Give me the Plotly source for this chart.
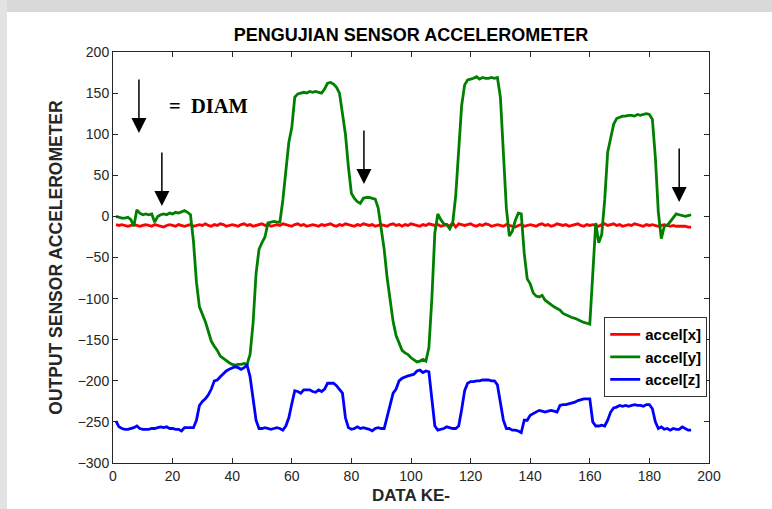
import plotly.graph_objects as go

# ---------------- data ----------------
data_ke = list(range(1, 195))

accel_x = [
    -10, -11, -10, -11, -12, -11, -10, -11, -12, -11,
    -10, -11, -12, -10, -11, -12, -13, -11, -10, -11,
    -12, -10, -11, -12, -11, -10, -12, -11, -10, -11,
    -9, -11, -12, -10, -11, -9, -10, -12, -11, -10,
    -11, -12, -10, -9, -11, -10, -12, -11, -10, -9,
    -11, -10, -12, -11, -10, -11, -9, -10, -11, -12,
    -10, -9, -11, -10, -12, -11, -10, -11, -12, -10,
    -11, -10, -9, -11, -12, -10, -11, -9, -10, -11,
    -12, -10, -11, -9, -10, -11, -10, -12, -11, -10,
    -11, -12, -10, -9, -11, -10, -12, -10, -11, -9,
    -10, -11, -12, -10, -11, -9, -10, -11, -10, -12,
    -11, -10, -12, -8, -13, -9, -10, -11, -10, -9,
    -11, -12, -10, -11, -9, -10, -12, -11, -10, -11,
    -12, -10, -11, -12, -13, -11, -10, -12, -11, -10,
    -11, -12, -10, -9, -11, -10, -12, -11, -9, -10,
    -11, -10, -12, -11, -10, -9, -11, -12, -10, -11,
    -10, -11, -12, -10, -9, -11, -10, -9, -11, -10,
    -12, -11, -10, -11, -9, -10, -11, -12, -10, -11,
    -10, -11, -12, -11, -10, -11, -12, -11, -12, -12,
    -12, -12, -13, -13,
]

accel_y = [
    0, -1, -2, -2, -1, -4, -12, 8, 4, 2,
    3, 2, 3, -7, 0, 2, 3, 2, 4, 3,
    5, 4, 6, 7, 5, 2, -30, -80, -110, -118,
    -128, -140, -152, -158, -163, -170, -173, -176, -178, -180,
    -181, -180, -180, -179, -180, -168, -130, -70, -40, -32,
    -25, -8, -7, -6, -7, -7, 20, 55, 90, 108,
    145, 149, 150, 151, 150, 152, 151, 152, 151, 150,
    155, 162, 163, 161, 157, 150, 125, 100, 60, 28,
    22, 18, 16, 22, 23, 23, 22, 21, 10, -15,
    -40, -75, -105, -128, -145, -155, -163, -166, -168, -172,
    -174, -177, -176, -174, -176, -160, -100, -20, 3, -4,
    -9, -10, -15, -8, 25, 80, 135, 160, 166, 167,
    168, 170, 167, 169, 168, 168, 169, 168, 169, 145,
    80, 10, -24, -18, -5, 4, 3, -45, -76, -82,
    -93, -97, -98, -96, -102, -105, -107, -110, -112, -114,
    -118, -120, -121, -123, -124, -126, -127, -129, -130, -131,
    -70, -8, -32, -22, 20, 78, 95, 112, 119, 121,
    122, 122, 123, 123, 122, 124, 123, 124, 125, 124,
    118, 72, 5, -27, -12, -11, -6, -2, 3, 2,
    1, 0, 1, 2,
]

accel_z = [
    -249, -256, -258, -259, -259, -258, -257, -255, -258, -259,
    -259, -259, -258, -258, -257, -256, -257, -256, -258, -258,
    -259, -259, -261, -257, -257, -257, -257, -248, -230, -225,
    -222, -217, -210, -200, -199, -195, -191, -188, -186, -184,
    -183, -184, -186, -184, -181, -195, -225, -248, -258, -258,
    -257, -258, -259, -258, -257, -258, -260, -255, -245, -228,
    -212, -213, -215, -211, -211, -211, -213, -214, -211, -213,
    -210, -203, -203, -203, -206, -210, -215, -245, -257, -259,
    -258, -256, -258, -257, -258, -259, -261, -258, -257, -258,
    -258, -244, -232, -215, -210, -200, -197, -195, -194, -193,
    -192, -188, -187, -190, -188, -189, -220, -255, -260, -259,
    -258, -256, -257, -258, -258, -255, -235, -212, -203, -201,
    -201, -200, -200, -199, -199, -199, -200, -200, -205, -225,
    -248, -258, -258, -260, -260, -261, -263, -248, -248, -242,
    -240, -238, -236, -237, -238, -237, -236, -237, -238, -230,
    -229, -229, -228, -227, -226, -224, -223, -222, -222, -222,
    -250, -255, -255, -254, -255, -248, -238, -233, -232, -230,
    -231, -230, -231, -230, -229, -230, -230, -231, -229, -229,
    -234, -250, -258, -256, -259, -258, -260, -258, -259, -259,
    -256, -258, -260, -260,
]

series_names = ["accel[x]", "accel[y]", "accel[z]"]
series_colors = ["#ff0000", "#008000", "#0000ff"]

x_ticks = list(range(0, 201, 20))
y_ticks = list(range(-300, 201, 50))

# arrow tips (data coords)
arrow_x = [8.7, 16.4, 84.2, 190.0]
arrow_y = [101.5, 12.7, 39.4, 17.5]

# ---------------- figure ----------------
fig = go.Figure()
for name, vals, col in zip(series_names, [accel_x, accel_y, accel_z], series_colors):
    fig.add_trace(go.Scatter(x=data_ke, y=vals, mode="lines", name=name,
                             line=dict(color=col, width=2.8)))

for ax_, ay_ in zip(arrow_x, arrow_y):
    fig.add_annotation(x=ax_, y=ay_, xref="x", yref="y", text="",
                       showarrow=True, arrowhead=2, arrowsize=2.0, arrowwidth=1.5,
                       arrowcolor="black", ax=0, ay=-55)

fig.add_annotation(x=(167 - 113) / 596, y=1 - (106 - 52) / 411, xref="paper", yref="paper",
                   text="<b>=&nbsp;&nbsp;DIAM</b>",
                   showarrow=False, xanchor="left", yanchor="middle",
                   font=dict(family="Liberation Serif", size=20.5, color="black"))

axis_common = dict(showgrid=False, zeroline=False, showline=True, linecolor="#262626",
                   linewidth=1, mirror="ticks", ticks="inside", ticklen=5,
                   tickcolor="#262626", automargin=False,
                   tickfont=dict(family="Liberation Sans", size=14, color="#262626"))

fig.update_layout(
    width=772, height=509,
    margin=dict(l=113, r=63, t=52, b=46),
    paper_bgcolor="white", plot_bgcolor="white",
    title=dict(text="<b>PENGUJIAN SENSOR ACCELEROMETER</b>", x=0.5, xref="paper",
               xanchor="center", y=1 - 35 / 509, yanchor="middle",
               font=dict(family="Liberation Sans", size=18, color="black")),
    xaxis=dict(range=[0, 200], tickvals=x_ticks,
               title=dict(text="<b>DATA KE-</b>", standoff=6,
                          font=dict(family="Liberation Sans", size=17, color="#262626")),
               **axis_common),
    yaxis=dict(range=[-300, 200], tickvals=y_ticks,
               title=dict(text="<b>OUTPUT SENSOR ACCELEROMETER</b>", standoff=10,
                          font=dict(family="Liberation Sans", size=17.5, color="#262626")),
               **axis_common),
    legend=dict(x=0.997, y=0.355, xanchor="right", yanchor="top",
                bgcolor="white", bordercolor="#333333", borderwidth=1,
                font=dict(family="Liberation Sans", size=15, color="black", weight="bold"),
                tracegroupgap=0),
    showlegend=True,
)

# grey border of the scanned page
fig.add_shape(type="rect", xref="paper", yref="paper",
              x0=-113 / 596, x1=1 + 63 / 596, y0=1 + 40 / 411, y1=1 + 52 / 411,
              fillcolor="#d9d9d9", line=dict(width=0), layer="below")
fig.add_shape(type="rect", xref="paper", yref="paper",
              x0=-113 / 596, x1=-106 / 596, y0=-46 / 411, y1=1 + 52 / 411,
              fillcolor="#e3e3e3", line=dict(width=0), layer="below")

fig.write_html("out.html")
